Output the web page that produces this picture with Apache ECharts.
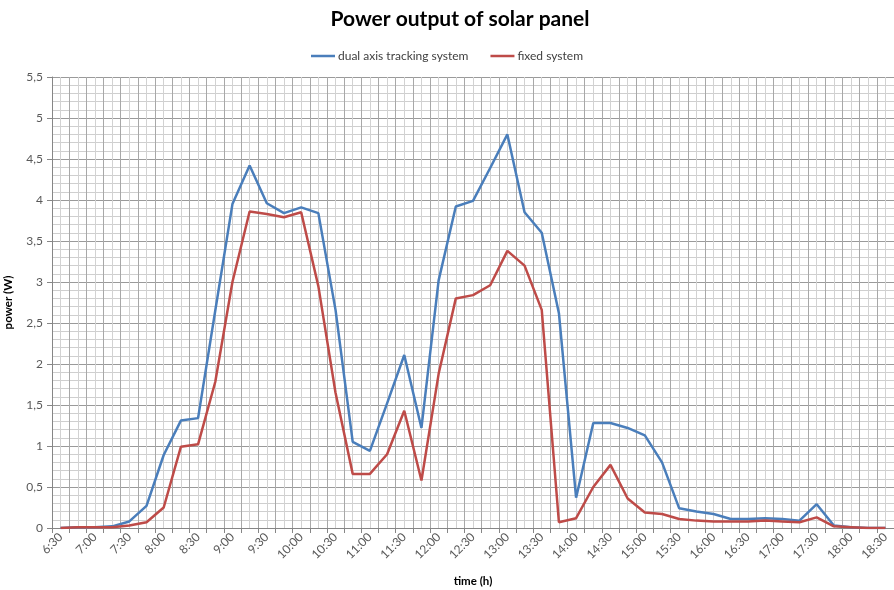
<!DOCTYPE html>
<html>
<head>
<meta charset="utf-8">
<script src="https://cdn.jsdelivr.net/npm/echarts@6/dist/echarts.min.js"></script>
<style>
html,body{margin:0;padding:0;background:#fff;}
#chart{width:894px;height:590px;}
</style>
</head>
<body>
<div id="chart"></div>
<script>
var times = ['6:30','6:45','7:00','7:15','7:30','7:45','8:00','8:15','8:30','8:45',
  '9:00','9:15','9:30','9:45','10:00','10:15','10:30','10:45','11:00','11:15',
  '11:30','11:45','12:00','12:15','12:30','12:45','13:00','13:15','13:30','13:45',
  '14:00','14:15','14:30','14:45','15:00','15:15','15:30','15:45','16:00','16:15',
  '16:30','16:45','17:00','17:15','17:30','17:45','18:00','18:15','18:30'];

var dualAxis = [0, 0.01, 0.01, 0.02, 0.08, 0.27, 0.89, 1.31, 1.34, 2.65,
  3.95, 4.42, 3.96, 3.84, 3.91, 3.84, 2.66, 1.05, 0.94, 1.52,
  2.11, 1.22, 3.02, 3.92, 3.99, 4.39, 4.80, 3.85, 3.60, 2.62,
  0.37, 1.28, 1.28, 1.22, 1.13, 0.80, 0.24, 0.20, 0.17, 0.11,
  0.11, 0.12, 0.11, 0.09, 0.29, 0.03, 0.01, 0, 0];

var fixedSys = [0, 0.01, 0.01, 0.01, 0.03, 0.07, 0.25, 0.99, 1.02, 1.78,
  3.00, 3.86, 3.83, 3.79, 3.85, 2.95, 1.65, 0.66, 0.66, 0.90,
  1.43, 0.58, 1.88, 2.80, 2.84, 2.96, 3.38, 3.20, 2.66, 0.07,
  0.12, 0.50, 0.77, 0.36, 0.19, 0.17, 0.11, 0.09, 0.08, 0.08,
  0.08, 0.09, 0.08, 0.07, 0.13, 0.02, 0.01, 0, 0];

var seriesNames = ['dual axis tracking system', 'fixed system'];

var chart = echarts.init(document.getElementById('chart'));
var font = 'Lato, "Open Sans", sans-serif';
chart.setOption({
  animation: false,
  backgroundColor: '#ffffff',
  title: {
    text: 'Power output of solar panel',
    left: 455, top: 4, textAlign: 'center',
    textStyle: {fontFamily: font, fontSize: 21, fontWeight: 'bold', color: '#000'}
  },
  legend: {
    data: seriesNames,
    left: 'center', top: 45,
    icon: 'rect',
    itemWidth: 24, itemHeight: 2.5, itemGap: 22,
    textStyle: {fontFamily: font, fontSize: 12, color: '#404040', padding: [0,0,0,-2]}
  },
  grid: {left: 52, top: 77, right: 0, bottom: 62, containLabel: false, outerBoundsMode: 'none'},
  xAxis: [{
    type: 'category',
    data: times,
    boundaryGap: true,
    name: 'time (h)',
    nameLocation: 'middle',
    nameGap: 47,
    nameTextStyle: {fontFamily: font, fontSize: 11.5, fontWeight: 'bold', color: '#000'},
    axisLine: {show: true, lineStyle: {color: '#868686', width: 1}},
    axisTick: {show: true, interval: 0, length: 5, lineStyle: {color: '#868686'}},
    axisLabel: {interval: 1, rotate: 45, fontFamily: font, fontSize: 12, color: '#595959', margin: 7},
    splitLine: {show: true, interval: 0, lineStyle: {color: '#a8a8a8', width: 1}}
  }, {
    type: 'value',
    min: 0, max: 49, interval: 1,
    position: 'top',
    axisLine: {show: false}, axisTick: {show: false}, axisLabel: {show: false},
    splitLine: {show: false},
    minorTick: {show: false, splitNumber: 2},
    minorSplitLine: {show: true, lineStyle: {color: '#d2d2d2', width: 1}}
  }],
  yAxis: {
    type: 'value',
    min: 0, max: 5.5, interval: 0.5,
    name: 'power (W)',
    nameLocation: 'middle',
    nameGap: 38,
    nameTextStyle: {fontFamily: font, fontSize: 11.5, fontWeight: 'bold', color: '#000'},
    axisLine: {show: true, lineStyle: {color: '#868686'}},
    axisTick: {show: true, length: 5, lineStyle: {color: '#868686'}},
    axisLabel: {fontFamily: font, fontSize: 12, color: '#595959', margin: 9,
      formatter: function (v) { return String(v).replace('.', ','); }},
    splitLine: {show: true, lineStyle: {color: '#9a9a9a', width: 1}},
    minorTick: {show: false, splitNumber: 5},
    minorSplitLine: {show: true, lineStyle: {color: '#cfcfcf', width: 1}}
  },
  series: [{
    name: seriesNames[0], type: 'line', data: dualAxis,
    symbol: 'none', smooth: false,
    lineStyle: {color: '#4a7ebb', width: 2.5},
    itemStyle: {color: '#4a7ebb'}
  }, {
    name: seriesNames[1], type: 'line', data: fixedSys,
    symbol: 'none', smooth: false,
    lineStyle: {color: '#be4b48', width: 2.5},
    itemStyle: {color: '#be4b48'}
  }]
});
</script>
</body>
</html>
